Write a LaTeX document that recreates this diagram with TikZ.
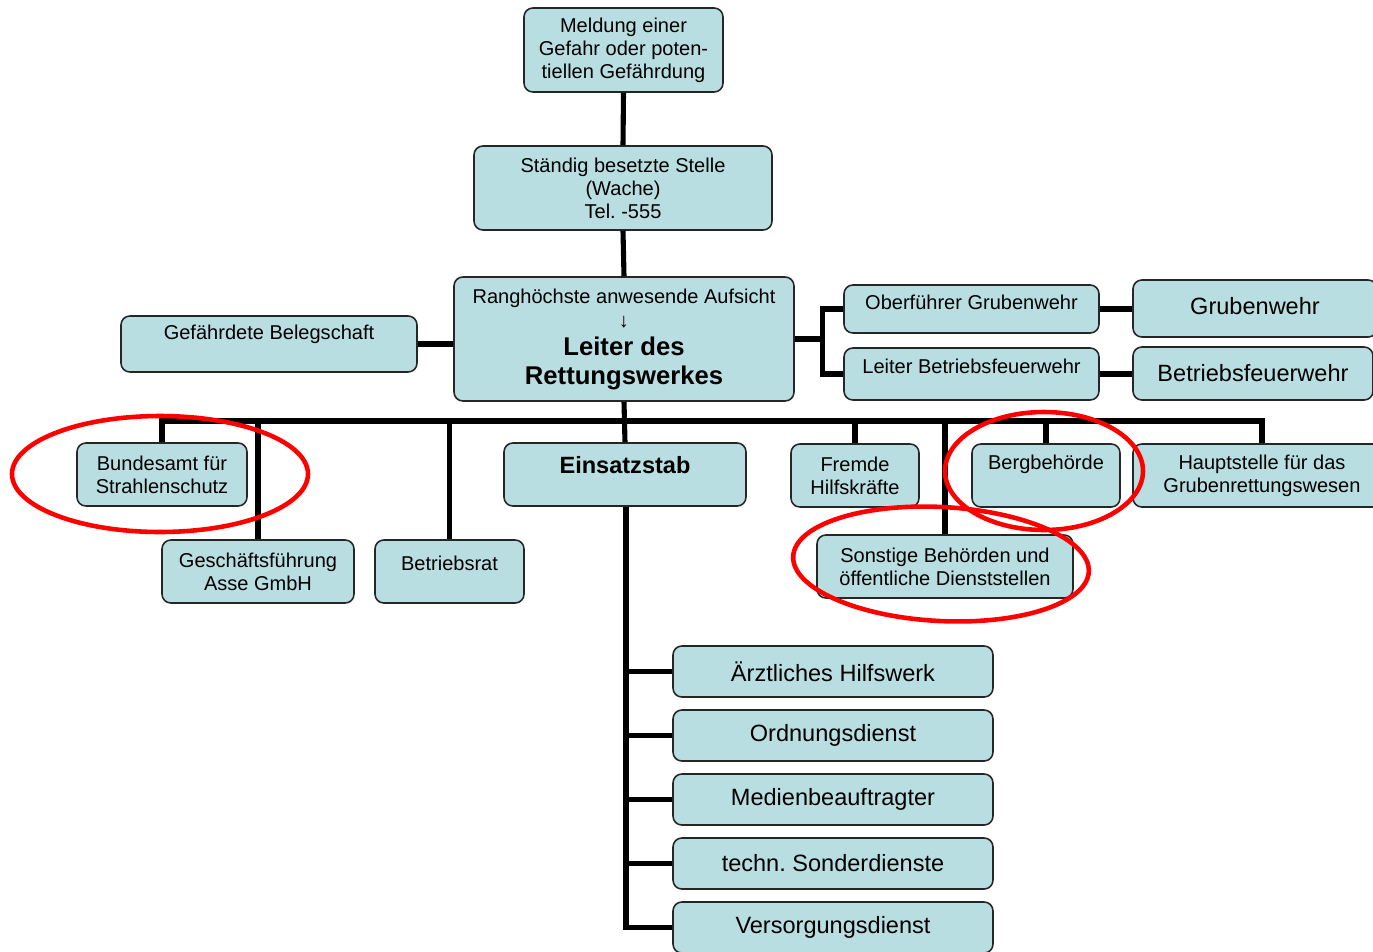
\documentclass[tikz,border=0pt]{standalone}
\usepackage{fontspec}
\setmainfont{Liberation Sans}
\usepackage{xcolor}
\usepackage{tikz}
\usetikzlibrary{calc}

\frenchspacing
\definecolor{boxcyan}{RGB}{185,222,226}
\newcommand{\txtS}{\fontsize{11.4}{13.1}\selectfont}
\newcommand{\txtM}{\fontsize{13.4}{15.4}\selectfont}
\newcommand{\txtL}{\fontsize{14.6}{17.1}\selectfont}

\tikzset{
    box/.style={draw=black!85, line width=0.9pt, fill=boxcyan, rounded corners=5pt,
                align=center, inner sep=2pt, font=\txtS},
    conn/.style={line width=2.9pt, black},
    redring/.style={draw=red, line width=2.6pt}
}

\begin{document}
\begin{tikzpicture}[x=0.02cm, y=-0.02cm]
        \clip (0,0) rectangle (1373,951);

        % chain at the top
        \node[box, minimum width=3.98cm, minimum height=1.68cm] (meld) at (623.5,50)
            {Meldung einer\\Gefahr oder poten-\\tiellen Gefährdung};
        \node[box, minimum width=5.96cm, minimum height=1.68cm] (wache) at (623,188)
            {Ständig besetzte Stelle\\(Wache)\\Tel. -555};
        \node[box, minimum width=6.8cm, minimum height=2.48cm] (leiter) at (624,339)
            {\txtS Ranghöchste anwesende Aufsicht\\[0.6pt]\txtS ↓\\[2.8pt]\txtL\bfseries Leiter des\\[3.4pt]\txtL\bfseries Rettungswerkes};

        \draw[conn] (meld.south) -- (wache.north);
        \draw[conn] (wache.south) -- (leiter.north);

        % left and right of the leader
        \node[box, minimum width=5.92cm, minimum height=1.12cm, text depth=13.8pt] (beleg) at (269,344)
            {Gefährdete Belegschaft};
        \node[box, minimum width=5.1cm, minimum height=0.96cm, text depth=8pt] (ofg) at (971.5,309)
            {Oberführer Grubenwehr};
        \node[box, minimum width=5.1cm, minimum height=1.04cm, text depth=9pt] (lbf) at (971.5,374)
            {Leiter Betriebsfeuerwehr};
        \node[box, font=\txtM, minimum width=4.88cm, minimum height=1.14cm, text depth=2.8pt] (gw) at (1255,308.5)
            {Grubenwehr};
        \node[box, font=\txtM, minimum width=4.8cm, minimum height=1.06cm] (bfw) at (1253,373.5)
            {Betriebsfeuerwehr};

        \draw[conn] (beleg.east) -- (beleg.east -| leiter.west);
        \coordinate (fork) at ($(leiter.east)+(28,0)$);
        \draw[conn] (leiter.east) -- (fork);
        \draw[conn] (fork) |- (ofg.west);
        \draw[conn] (fork) |- (lbf.west);
        \draw[conn] (ofg.east) -- (ofg.east -| gw.west);
        \draw[conn] (lbf.east) -- (lbf.east -| bfw.west);

        % second row
        \node[box, minimum width=3.4cm, minimum height=1.26cm] (bfs) at (162,474.5)
            {Bundesamt für\\Strahlenschutz};
        \node[box, minimum width=3.84cm, minimum height=1.26cm] (gf) at (258,571.5)
            {Geschäftsführung\\Asse GmbH};
        \node[box, minimum width=2.98cm, minimum height=1.26cm, text depth=9.7pt] (br) at (449.5,571.5)
            {Betriebsrat};
        \node[box, font=\txtM\bfseries, minimum width=4.84cm, minimum height=1.26cm, text depth=10.8pt] (stab) at (625,474.5)
            {Einsatzstab};
        \node[box, minimum width=2.56cm, minimum height=1.26cm] (fhk) at (855,475.5)
            {Fremde\\Hilfskräfte};
        \node[box, minimum width=5.12cm, minimum height=1.26cm] (sbd) at (945,566.5)
            {Sonstige Behörden und\\öffentliche Dienststellen};
        \node[box, minimum width=2.96cm, minimum height=1.26cm, text depth=15.4pt] (berg) at (1046,475.5)
            {Bergbehörde};
        \node[box, minimum width=5.16cm, minimum height=1.26cm] (hgr) at (1262,475.5)
            {Hauptstelle für das\\Grubenrettungswesen};

        % bus below the leader
        \coordinate (bus) at (0,421);
        \draw[conn] (bfs.north) -- (bfs.north |- bus) -- (hgr.north |- bus) -- (hgr.north);
        \draw[conn] (leiter.south) -- (stab.north);
        \foreach \n in {gf,br,fhk,sbd,berg} {
            \draw[conn] (\n.north) -- (\n.north |- bus);
        }

        % staff units
        \foreach \n/\txt [count=\i] in {aerzt/Ärztliches Hilfswerk, ordn/Ordnungsdienst,
                medien/Medienbeauftragter, techn/techn. Sonderdienste, versorg/Versorgungsdienst} {
            \node[box, font=\txtM, minimum width=6.4cm, minimum height=1.02cm] (\n) at (833,607.5+64*\i) {\txt};
        }
        \coordinate (stabline) at ($(stab.south)+(1,0)$);
        \draw[conn] (stabline) |- (versorg.west);
        \foreach \n in {aerzt,ordn,medien,techn} {
            \draw[conn] (stabline |- \n.west) -- (\n.west);
        }

        % red marks
        \draw[redring] (160,474) ellipse [x radius=148, y radius=58];
        \draw[redring] (1044,471) ellipse [x radius=99, y radius=59];
        \draw[redring, rotate around={-3:(941,564)}] (941,564) ellipse [x radius=148, y radius=57];

    \end{tikzpicture}
\end{document}
